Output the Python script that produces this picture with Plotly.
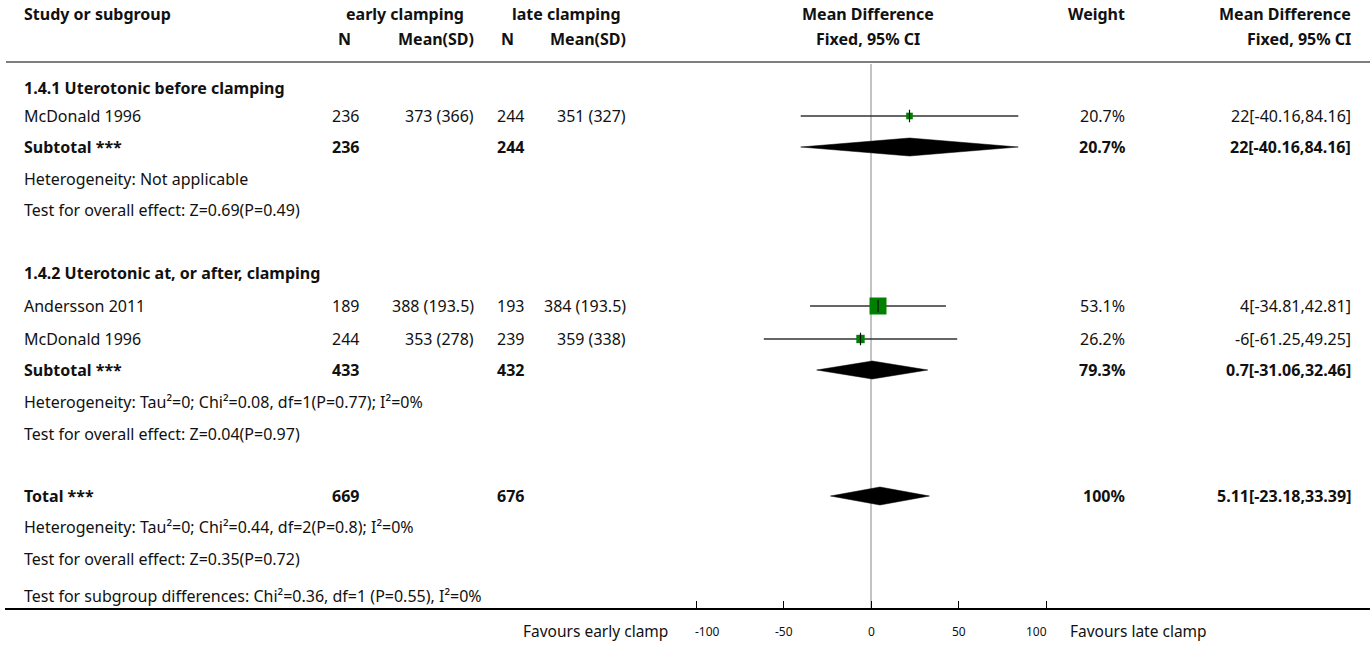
import plotly.graph_objects as go

# ---- study-level data -------------------------------------------------------
study_names = ["McDonald 1996", "Andersson 2011", "McDonald 1996"]
study_group = [0, 1, 1]
early_n = [236, 189, 244]
early_mean = [373, 388, 353]
early_sd = [366, 193.5, 278]
late_n = [244, 193, 239]
late_mean = [351, 384, 359]
late_sd = [327, 193.5, 338]
md = [22, 4, -6]
ci_lo = [-40.16, -34.81, -61.25]
ci_hi = [84.16, 42.81, 49.25]
weight = [20.7, 53.1, 26.2]

# ---- pooled estimates (subgroup 1, subgroup 2, overall) ---------------------
pooled_names = ["Subtotal ***", "Subtotal ***", "Total ***"]
pooled_early_n = [236, 433, 669]
pooled_late_n = [244, 432, 676]
pooled_md = [22, 0.7, 5.11]
pooled_lo = [-40.16, -31.06, -23.18]
pooled_hi = [84.16, 32.46, 33.39]
pooled_weight = [20.7, 79.3, 100]

group_titles = ["1.4.1 Uterotonic before clamping", "1.4.2 Uterotonic at, or after, clamping"]
heterogeneity = [
    "Heterogeneity: Not applicable",
    "Heterogeneity: Tau²=0; Chi²=0.08, df=1(P=0.77); I²=0%",
    "Heterogeneity: Tau²=0; Chi²=0.44, df=2(P=0.8); I²=0%",
]
overall_effect = [
    "Test for overall effect: Z=0.69(P=0.49)",
    "Test for overall effect: Z=0.04(P=0.97)",
    "Test for overall effect: Z=0.35(P=0.72)",
]
subgroup_diff = "Test for subgroup differences: Chi²=0.36, df=1 (P=0.55), I²=0%"

axis_ticks = [-100, -50, 0, 50, 100]
favours_left = "Favours early clamp"
favours_right = "Favours late clamp"

# ---- page geometry ----------------------------------------------------------
W, H = 1370, 648
ML, MB = 5, 40                 # plot area: x 5..1370, y 0..608
PLOT_W, PLOT_H = W - ML, H - MB
ZERO_PX, PX_PER_UNIT = 871, 1.75
x_range = [(ML - ZERO_PX) / PX_PER_UNIT, (W - ZERO_PX) / PX_PER_UNIT]

FONT = "Noto Sans"
FS = 16
FS_BOLD = 16
FS_FAV = 15.5
FS_TICK = 12
INK = "#111111"


def px(xpix):
    return (xpix - ML) / PLOT_W


def py(ypix):
    return (PLOT_H - ypix) / PLOT_H


# row centres (pixels from top)
y_head1, y_head2 = 14, 39
y_rule = 62
group_rows = [
    dict(title=88, studies=[116], pooled=147, het=179, test=210),
    dict(title=273, studies=[306, 339], pooled=370, het=402, test=434),
]
total_rows = dict(pooled=496, het=527, test=559, diff=596)
y_axis_label = 631

# column anchors (pixels)
X_STUDY = 22
X_EN, X_EMS = 330, 476
X_LN, X_LMS = 495, 628
X_W, X_CI = 1127, 1353

annotations = []


def txt(x, y, s, anchor="left", bold=False, size=None, color=INK):
    if size is None:
        size = FS_BOLD if bold else FS
    annotations.append(dict(
        x=px(x), y=py(y), xref="paper", yref="paper",
        text=f"<b>{s}</b>" if bold else s,
        showarrow=False, xanchor=anchor, yanchor="middle",
        font=dict(family=FONT, size=size, color=color),
    ))


# header
txt(X_STUDY, y_head1, "Study or subgroup", bold=True)
txt(405, y_head1, "early clamping", "center", True)
txt(566, y_head1, "late clamping", "center", True)
txt(868, y_head1, "Mean Difference", "center", True)
txt(X_W, y_head1, "Weight", "right", True)
txt(X_CI, y_head1, "Mean Difference", "right", True)
txt(X_EN + 6, y_head2, "N", "left", True)
txt(X_EMS, y_head2, "Mean(SD)", "right", True)
txt(X_LN + 4, y_head2, "N", "left", True)
txt(X_LMS, y_head2, "Mean(SD)", "right", True)
txt(868, y_head2, "Fixed, 95% CI", "center", True)
txt(X_CI, y_head2, "Fixed, 95% CI", "right", True)


def ci_text(m, lo, hi):
    return f"{m:g}[{lo:g},{hi:g}]"


study_y = []
for g, rows in enumerate(group_rows):
    txt(X_STUDY, rows["title"], group_titles[g], bold=True)
    idx = [i for i, sg in enumerate(study_group) if sg == g]
    for i, yy in zip(idx, rows["studies"]):
        study_y.append(yy)
        txt(X_STUDY, yy, study_names[i])
        txt(X_EN, yy, str(early_n[i]))
        txt(X_EMS, yy, f"{early_mean[i]:g} ({early_sd[i]:g})", "right")
        txt(X_LN, yy, str(late_n[i]))
        txt(X_LMS, yy, f"{late_mean[i]:g} ({late_sd[i]:g})", "right")
        txt(X_W, yy, f"{weight[i]:g}%", "right")
        txt(X_CI, yy, ci_text(md[i], ci_lo[i], ci_hi[i]), "right")

pooled_y = [group_rows[0]["pooled"], group_rows[1]["pooled"], total_rows["pooled"]]
for k, yy in enumerate(pooled_y):
    txt(X_STUDY, yy, pooled_names[k], bold=True)
    txt(X_EN, yy, str(pooled_early_n[k]), bold=True)
    txt(X_LN, yy, str(pooled_late_n[k]), bold=True)
    txt(X_W, yy, f"{pooled_weight[k]:g}%", "right", True)
    txt(X_CI, yy, ci_text(pooled_md[k], pooled_lo[k], pooled_hi[k]), "right", True)

het_y = [group_rows[0]["het"], group_rows[1]["het"], total_rows["het"]]
test_y = [group_rows[0]["test"], group_rows[1]["test"], total_rows["test"]]
for k in range(3):
    txt(X_STUDY, het_y[k], heterogeneity[k])
    txt(X_STUDY, test_y[k], overall_effect[k])
txt(X_STUDY, total_rows["diff"], subgroup_diff)

txt(670, y_axis_label, favours_left, "right", size=FS_FAV)
txt(1068, y_axis_label, favours_right, "left", size=FS_FAV)

# axis tick labels: the outer two sit inside their ticks
for j, t in enumerate(axis_ticks):
    anchor = "left" if j == 0 else ("right" if j == len(axis_ticks) - 1 else "center")
    annotations.append(dict(
        x=t, y=py(y_axis_label), xref="x", yref="paper", text=str(t),
        showarrow=False, xanchor=anchor, yanchor="middle",
        xshift=-3 if anchor == "left" else (3 if anchor == "right" else 0),
        font=dict(family=FONT, size=FS_TICK, color=INK),
    ))

fig = go.Figure()

# confidence-interval whiskers
for i in range(len(md)):
    fig.add_trace(go.Scatter(
        x=[ci_lo[i], ci_hi[i]], y=[study_y[i], study_y[i]], mode="lines",
        line=dict(color="#333333", width=1.5), hoverinfo="skip", showlegend=False,
    ))

# weighted squares
fig.add_trace(go.Scatter(
    x=md, y=study_y, mode="markers",
    marker=dict(symbol="square", color="#008000", opacity=1,
                size=[w * 0.32 for w in weight], line=dict(width=0)),
    hoverinfo="skip", showlegend=False,
))
fig.add_trace(go.Scatter(
    x=md, y=study_y, mode="markers",
    marker=dict(symbol="line-ns", size=9, opacity=1,
                line=dict(color="#111111", width=1.2)),
    hoverinfo="skip", showlegend=False,
))

# pooled diamonds
HALF_H = 9
for k in range(len(pooled_md)):
    yy = pooled_y[k]
    fig.add_trace(go.Scatter(
        x=[pooled_lo[k], pooled_md[k], pooled_hi[k], pooled_md[k], pooled_lo[k]],
        y=[yy, yy - HALF_H, yy, yy + HALF_H, yy],
        mode="lines", fill="toself", fillcolor="#000000",
        line=dict(color="#000000", width=0.5), hoverinfo="skip", showlegend=False,
    ))

shapes = [
    # line of no effect
    dict(type="line", xref="x", yref="y", x0=0, x1=0, y0=y_rule + 2, y1=PLOT_H,
         line=dict(color="#888888", width=1), layer="below"),
    # rule under header
    dict(type="line", xref="paper", yref="y", x0=px(6), x1=1, y0=y_rule, y1=y_rule,
         line=dict(color="#000000", width=1.2)),
]

fig.update_layout(
    width=W, height=H,
    margin=dict(l=ML, r=0, t=0, b=MB, pad=0),
    plot_bgcolor="white", paper_bgcolor="white",
    annotations=annotations, shapes=shapes,
    xaxis=dict(
        range=x_range, tickmode="array", tickvals=axis_ticks,
        showticklabels=False,
        ticks="inside", ticklen=7, tickcolor="#000000", tickwidth=1,
        showline=True, linecolor="#000000", linewidth=1.5,
        showgrid=False, zeroline=False, fixedrange=True,
    ),
    yaxis=dict(range=[PLOT_H, 0], visible=False, showgrid=False, zeroline=False,
               fixedrange=True),
    showlegend=False,
)

fig.write_html("out.html")
